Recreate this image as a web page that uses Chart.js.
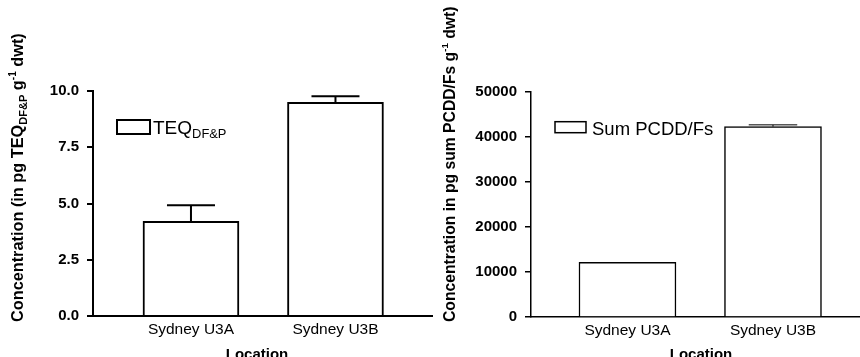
<!DOCTYPE html>
<html>
<head>
<meta charset="utf-8">
<script src="https://cdn.jsdelivr.net/npm/chart.js@4"></script>
<style>
html, body { margin: 0; padding: 0; background: #fff; width: 860px; height: 357px; overflow: hidden; }
body { position: relative; }
canvas { position: absolute; top: 0; }
#teqChart { left: 0; }
#sumChart { left: 425px; }
</style>
</head>
<body>
<canvas id="teqChart" width="440" height="357"></canvas>
<canvas id="sumChart" width="435" height="357"></canvas>
<script>
// data
const locations = ['Sydney U3A', 'Sydney U3B'];
const teqValues = [4.21, 9.5];
const teqErrors = [0.71, 0.27];
const sumValues = [12150, 42300];
const sumErrors = [0, 400];
const teqTicks = [0, 2.5, 5, 7.5, 10];
const sumTicks = [0, 10000, 20000, 30000, 40000, 50000];

const FONT = "'Liberation Sans', Arial, sans-serif";

// draws text pieces with sub/superscripts, left to right from (x, y)
function drawRich(ctx, parts, x, y, size, weight) {
    let cx = x;
    parts.forEach(p => {
        let s = size, dy = 0;
        if (p.sub) { s = size * 0.68; dy = size * 0.22; }
        if (p.sup) { s = size * 0.62; dy = -size * 0.42; }
        ctx.font = `${weight} ${s}px ${FONT}`;
        ctx.fillText(p.t, cx, y + dy);
        cx += ctx.measureText(p.t).width;
    });
}

const errorBars = {
    id: 'errorBars',
    afterDatasetsDraw(chart, args, opts) {
        const ctx = chart.ctx;
        const yScale = chart.scales.y;
        const ds = chart.data.datasets[0];
        ctx.save();
        ctx.strokeStyle = '#000';
        ctx.lineWidth = opts.lineWidth;
        chart.getDatasetMeta(0).data.forEach((bar, i) => {
            const err = opts.errors[i];
            if (!err) return;
            const top = yScale.getPixelForValue(ds.data[i].y + err);
            const half = bar.width / 4;
            ctx.beginPath();
            ctx.moveTo(bar.x, bar.y);
            ctx.lineTo(bar.x, top);
            ctx.moveTo(bar.x - half, top);
            ctx.lineTo(bar.x + half, top);
            ctx.stroke();
        });
        ctx.restore();
    }
};

const annotations = {
    id: 'annotations',
    afterDraw(chart, args, opts) {
        const ctx = chart.ctx;
        ctx.save();
        ctx.fillStyle = '#000';
        ctx.textBaseline = 'alphabetic';
        ctx.textAlign = 'left';

        // legend box + label
        const lg = opts.legend;
        ctx.strokeStyle = '#000';
        ctx.lineWidth = lg.lineWidth;
        ctx.strokeRect(lg.box[0], lg.box[1], lg.box[2], lg.box[3]);
        drawRich(ctx, lg.parts, lg.x, lg.y, lg.size, 'normal');

        // y title, rotated
        const yt = opts.yTitle;
        ctx.save();
        ctx.translate(yt.x, yt.y);
        ctx.rotate(-Math.PI / 2);
        drawRich(ctx, yt.parts, 0, 0, yt.size, 'bold');
        ctx.restore();

        // x title
        const xt = opts.xTitle;
        ctx.font = `bold ${xt.size}px ${FONT}`;
        ctx.textAlign = 'center';
        ctx.fillText(xt.text, xt.x, xt.y);
        ctx.restore();
    }
};

function makeChart(id, cfg) {
    const points = cfg.values.map((v, i) => ({ x: i + 1, y: v }));
    return new Chart(document.getElementById(id), {
        type: 'bar',
        data: {
            datasets: [{
                label: cfg.legend.parts.map(p => p.t).join(''),
                data: points,
                backgroundColor: '#fff',
                borderColor: '#000',
                borderWidth: cfg.lineWidth,
                barThickness: cfg.barThickness
            }]
        },
        options: {
            responsive: false,
            animation: false,
            layout: { padding: cfg.padding },
            plugins: {
                legend: { display: false },
                tooltip: { enabled: false },
                errorBars: { errors: cfg.errors, lineWidth: cfg.errLineWidth },
                annotations: { legend: cfg.legend, yTitle: cfg.yTitle, xTitle: cfg.xTitle }
            },
            scales: {
                x: {
                    type: 'linear',
                    offset: false,
                    min: cfg.xRange[0],
                    max: cfg.xRange[1],
                    afterBuildTicks: s => { s.ticks = locations.map((l, i) => ({ value: i + 1 })); },
                    afterFit: s => { s.height = cfg.xHeight; },
                    grid: { display: false, drawTicks: false, offset: false },
                    border: { display: true, color: '#000', width: cfg.axisWidth },
                    ticks: {
                        callback: v => locations[v - 1],
                        color: '#000',
                        font: { family: FONT, size: 15.5 },
                        padding: 4,
                        maxRotation: 0,
                        autoSkip: false
                    }
                },
                y: {
                    min: cfg.yTicks[0],
                    max: cfg.yTicks[cfg.yTicks.length - 1],
                    afterBuildTicks: s => { s.ticks = cfg.yTicks.map(v => ({ value: v })); },
                    afterFit: s => { s.width = cfg.yWidth; },
                    grid: { drawOnChartArea: false, drawTicks: true, tickLength: 6, color: '#000', lineWidth: cfg.axisWidth },
                    border: { display: true, color: '#000', width: cfg.axisWidth },
                    ticks: {
                        callback: cfg.tickFormat,
                        color: '#000',
                        font: { family: FONT, size: 15, weight: 'bold' },
                        padding: 8
                    }
                }
            }
        },
        plugins: [errorBars, annotations]
    });
}

makeChart('teqChart', {
    values: teqValues,
    errors: teqErrors,
    yTicks: teqTicks,
    tickFormat: v => v.toFixed(1),
    xRange: [0.322, 2.668],
    padding: { top: 91, right: 8, bottom: 0, left: 0 },
    yWidth: 93,
    xHeight: 41,
    barThickness: 96,
    lineWidth: 2,
    axisWidth: 2,
    errLineWidth: 2,
    legend: {
        box: [117, 120, 33, 14], lineWidth: 2, x: 153, y: 134.3, size: 19,
        parts: [{ t: 'TEQ' }, { t: 'DF&P', sub: true }]
    },
    yTitle: {
        x: 23, y: 322, size: 16.3,
        parts: [{ t: 'Concentration (in pg TEQ' }, { t: 'DF&P', sub: true }, { t: ' g' }, { t: '-1', sup: true }, { t: ' dwt)' }]
    },
    xTitle: { text: 'Location', x: 257, y: 358.5, size: 15 }
});

makeChart('sumChart', {
    values: sumValues,
    errors: sumErrors,
    yTicks: sumTicks,
    tickFormat: v => String(v),
    xRange: [0.337, 2.598],
    padding: { top: 92, right: 0, bottom: 0, left: 0 },
    yWidth: 106,
    xHeight: 40,
    barThickness: 97,
    lineWidth: 1.5,
    axisWidth: 1.5,
    errLineWidth: 1,
    legend: {
        box: [130, 121.7, 31, 11], lineWidth: 1.5, x: 167, y: 135, size: 18.5,
        parts: [{ t: 'Sum PCDD/Fs' }]
    },
    yTitle: {
        x: 30, y: 322, size: 15.7,
        parts: [{ t: 'Concentration in pg sum PCDD/Fs g' }, { t: '-1', sup: true }, { t: ' dwt)' }]
    },
    xTitle: { text: 'Location', x: 276, y: 358.5, size: 15 }
});
</script>
</body>
</html>
